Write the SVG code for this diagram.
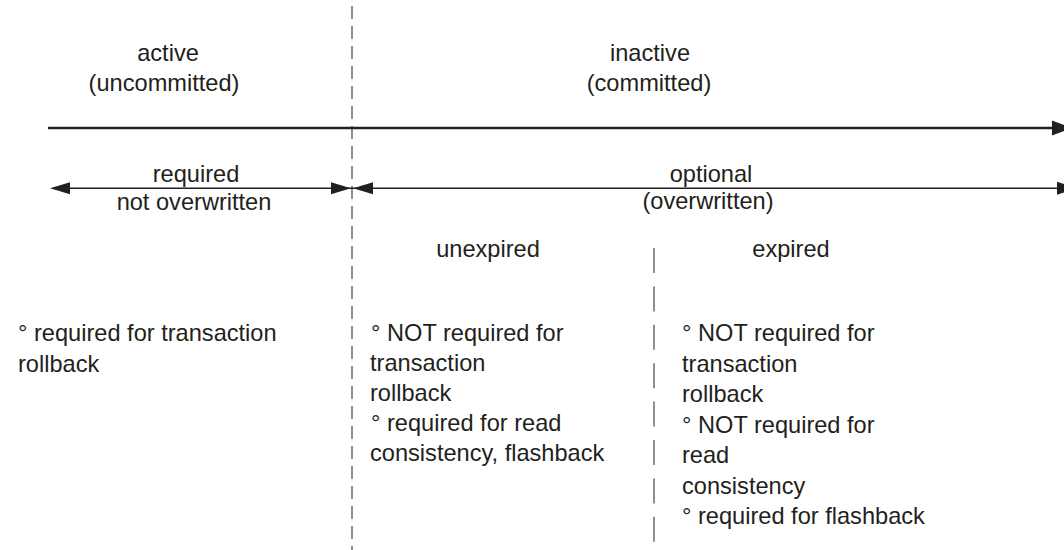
<svg xmlns="http://www.w3.org/2000/svg" width="1064" height="550" viewBox="0 0 1064 550">
<style>
text{font-family:"Liberation Sans",Arial,Helvetica,sans-serif;font-size:23.6px;fill:#231f20}
.c{text-anchor:middle}
.dash1{stroke:#555;stroke-width:1.3;stroke-dasharray:13 7;fill:none}
.dash2{stroke:#555;stroke-width:1.3;stroke-dasharray:25 13.4;fill:none}
.thick{stroke:#231f20;stroke-width:2.5;fill:none}
.thin{stroke:#231f20;stroke-width:1.4;fill:none}
.head{fill:#231f20}
</style>
<rect width="1064" height="550" fill="#fff"/>
<g id="connectors">
<line class="dash1" x1="352" y1="6" x2="352" y2="550"/>
<line class="dash2" x1="654" y1="248" x2="654" y2="545"/>
<line class="thick" x1="48" y1="128" x2="1055" y2="128"/>
<polygon class="head" points="1052,120.5 1072,128 1052,135.5"/>
<line class="thin" x1="60" y1="188.3" x2="1064" y2="188.3"/>
<polygon class="head" points="50,188.3 70,182.3 70,194.3"/>
<polygon class="head" points="351,188.3 331,182.3 331,194.3"/>
<polygon class="head" points="353,188.3 373,182.3 373,194.3"/>
<polygon class="head" points="1077,188.3 1057,181.8 1057,194.8"/>
</g>
<g id="active">
<text class="c" x="168" y="61">active</text>
<text class="c" x="164" y="91">(uncommitted)</text>
</g>
<g id="inactive">
<text class="c" x="650" y="61">inactive</text>
<text class="c" x="649" y="91">(committed)</text>
</g>
<g id="required">
<text class="c" x="196" y="181.5">required</text>
<text class="c" x="194" y="210">not overwritten</text>
</g>
<g id="optional">
<text class="c" x="711" y="182">optional</text>
<text class="c" x="708" y="209">(overwritten)</text>
</g>
<g id="unexpired">
<text class="c" x="488" y="257">unexpired</text>
</g>
<g id="expired">
<text class="c" x="791" y="257">expired</text>
</g>
<g id="active-notes">
<text x="18" y="341">° required for transaction</text>
<text x="18" y="372">rollback</text>
</g>
<g id="unexpired-notes">
<text x="371" y="341">° NOT required for</text>
<text x="370" y="371">transaction</text>
<text x="370" y="401">rollback</text>
<text x="371" y="431">° required for read</text>
<text x="370" y="461">consistency, flashback</text>
</g>
<g id="expired-notes">
<text x="682" y="341">° NOT required for</text>
<text x="682" y="371.5">transaction</text>
<text x="682" y="402">rollback</text>
<text x="682" y="432.5">° NOT required for</text>
<text x="682" y="463">read</text>
<text x="682" y="493.5">consistency</text>
<text x="682" y="524">° required for flashback</text>
</g>
</svg>
